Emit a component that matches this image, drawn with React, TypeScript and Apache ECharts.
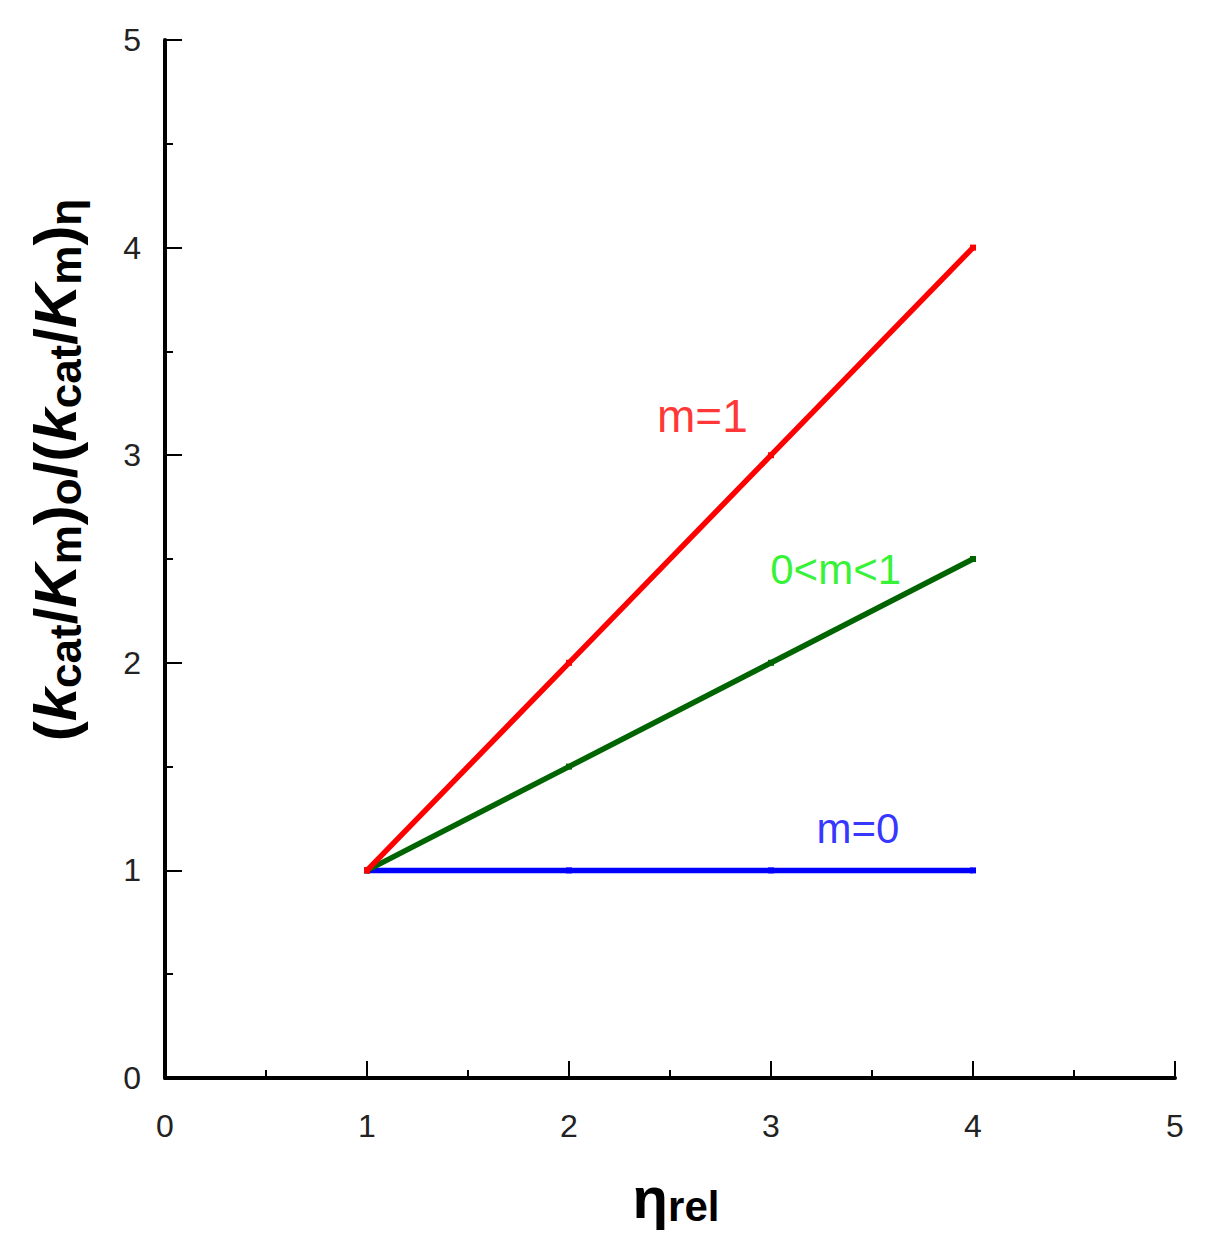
import React, { useEffect, useRef } from "react";
import * as echarts from "echarts";

// ---- data ----
const etaRel = [1, 2, 3, 4];
const ratioM1 = [1, 2, 3, 4];
const ratioMid = [1, 1.5, 2, 2.5];
const ratioM0 = [1, 1, 1, 1];

const seriesNames = ["m=1", "0<m<1", "m=0"];
const lineColors = ["#ff0000", "#006400", "#0000ff"];
const labelColors = ["#ff0000", "#00f000", "#0000ff"];
// where the curve names sit, in data units
const labelX = [2.66, 3.32, 3.43];
const labelY = [3.19, 2.45, 1.2];
const labelSizes = [46, 42, 42];

const AXIS_FONT = "'Liberation Sans Narrow', 'Liberation Sans', Arial, sans-serif";
const TITLE_FONT = "'Liberation Sans', Arial, sans-serif";

export default function App() {
  const ref = useRef<HTMLDivElement>(null);

  useEffect(() => {
    if (!ref.current) return;
    const chart = echarts.init(ref.current, null, { renderer: "svg" });
    const values = [ratioM1, ratioMid, ratioM0];

    const lineSeries = values.map((vals, i) => ({
      type: "line",
      name: seriesNames[i],
      data: etaRel.map((x, j) => [x, vals[j]]),
      symbol: "rect",
      symbolSize: 6,
      showSymbol: true,
      lineStyle: { color: lineColors[i], width: 5.5 },
      itemStyle: { color: lineColors[i] },
      z: 3 - i + 2,
    }));

    const labelSeries = seriesNames.map((name, i) => ({
      type: "scatter",
      name: name + " label",
      data: [[labelX[i], labelY[i]]],
      symbolSize: 1,
      itemStyle: { color: "rgba(0,0,0,0)" },
      label: {
        show: true,
        position: "inside",
        formatter: name,
        color: labelColors[i],
        fontSize: labelSizes[i],
        fontFamily: TITLE_FONT,
      },
      z: 10,
    }));

    const commonAxis = {
      type: "value",
      min: 0,
      max: 5,
      interval: 1,
      axisLine: { show: true, lineStyle: { color: "#000", width: 4 } },
      axisTick: { show: true, inside: true, length: 17, lineStyle: { color: "#000", width: 2 } },
      minorTick: { show: true, splitNumber: 2, length: 8, lineStyle: { color: "#000", width: 2 } },
      splitLine: { show: false },
      minorSplitLine: { show: false },
    };

    chart.setOption({
      animation: false,
      backgroundColor: "#fff",
      grid: { left: 165, right: 36, top: 40, bottom: 171 },
      xAxis: {
        ...commonAxis,
        axisLabel: { margin: 32, fontSize: 32, color: "#222", fontFamily: AXIS_FONT },
      },
      yAxis: {
        ...commonAxis,
        axisLabel: { margin: 24, fontSize: 32, color: "#222", fontFamily: AXIS_FONT },
      },
      graphic: [
        {
          type: "text",
          x: 55,
          y: 470,
          rotation: Math.PI / 2,
          style: {
            text:
              "{p|(}{k|k}{s|cat}{p|/}{k|K}{s|m}{p|)}{s|o}{p|/(}{k|k}{s|cat}{p|/}{k|K}{s|m}{p|)}{s|η}",
            align: "center",
            verticalAlign: "middle",
            fill: "#000",
            rich: {
              p: { fontSize: 60, fontWeight: "bold", fontFamily: TITLE_FONT, lineHeight: 64, fill: "#000" },
              k: { fontSize: 60, fontWeight: "bold", fontStyle: "italic", fontFamily: TITLE_FONT, lineHeight: 64, fill: "#000" },
              s: { fontSize: 44, fontWeight: "bold", fontFamily: TITLE_FONT, lineHeight: 44, verticalAlign: "bottom", fill: "#000" },
            },
          },
        },
        {
          type: "text",
          x: 676,
          y: 1197,
          style: {
            text: "{e|η}{r|rel}",
            align: "center",
            verticalAlign: "middle",
            fill: "#000",
            rich: {
              e: { fontSize: 58, fontWeight: "bold", fontFamily: TITLE_FONT, lineHeight: 60, fill: "#000" },
              r: { fontSize: 42, fontWeight: "bold", fontFamily: TITLE_FONT, lineHeight: 42, verticalAlign: "bottom", fill: "#000" },
            },
          },
        },
      ],
      series: [...lineSeries, ...labelSeries],
    } as any);

    return () => chart.dispose();
  }, []);

  return (
    <div
      ref={ref}
      style={{ position: "absolute", left: 0, top: 0, width: 1211, height: 1249 }}
    />
  );
}
